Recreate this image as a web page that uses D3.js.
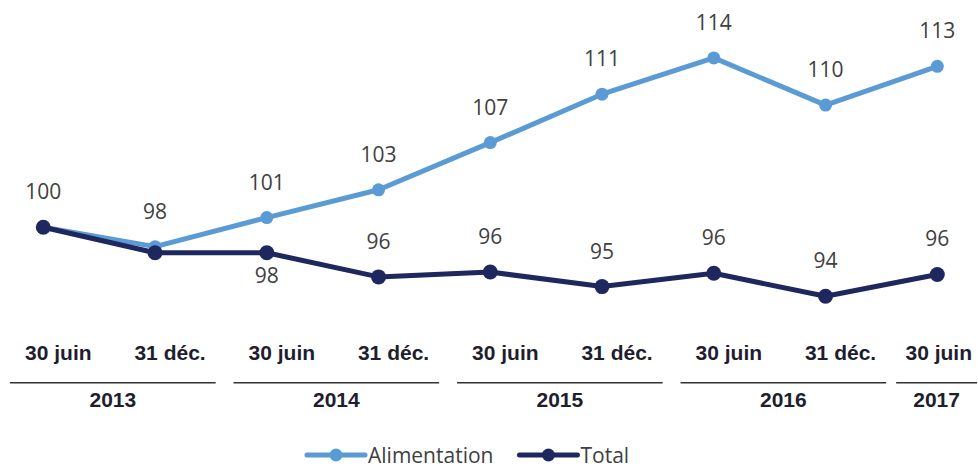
<!DOCTYPE html>
<html><head><meta charset="utf-8">
<script src="https://cdn.jsdelivr.net/npm/d3@7"></script>
<style>body{margin:0;background:#fff}svg{display:block}</style>
</head><body><svg id="c" width="978" height="468"></svg>
<script>
const categories = ["30 juin","31 déc.","30 juin","31 déc.","30 juin","31 déc.","30 juin","31 déc.","30 juin"];
const years = ["2013","2013","2014","2014","2015","2015","2016","2016","2017"];
const alimentation = [100, 98.4, 100.8, 103.1, 107.0, 111.0, 114.0, 110.1, 113.3];
const total = [100, 97.9, 97.9, 95.9, 96.3, 95.1, 96.2, 94.3, 96.1];
const seriesNames = ["Alimentation", "Total"];
const colors = ["#5B9BD5", "#1F285E"];

const W = 978, H = 468;
const svg = d3.select("#c");
const idx = d3.range(categories.length);
const x = d3.scalePoint().domain(idx).range([43.3, 937.3]);
const y = d3.scaleLinear().domain([90, 115]).range([348.3, 45.8]);
const fmt = d3.format(".0f");

const series = [
  {name: seriesNames[0], values: alimentation, color: colors[0], r: 6.5},
  {name: seriesNames[1], values: total, color: colors[1], r: 7.5}
];
const line = d3.line().x((d,i)=>x(i)).y(d=>y(d));

series.forEach(s => {
  const g = svg.append("g");
  g.append("path").datum(s.values).attr("d", line)
    .attr("fill","none").attr("stroke", s.color).attr("stroke-width",5)
    .attr("stroke-linejoin","round").attr("stroke-linecap","round");
  g.selectAll("circle").data(s.values).join("circle")
    .attr("cx",(d,i)=>x(i)).attr("cy",d=>y(d)).attr("r",s.r).attr("fill",s.color);
});

// data labels
const lbl = svg.append("g").attr("font-family","'Open Sans', sans-serif").attr("font-size",21)
  .attr("fill","#404040").attr("text-anchor","middle");
alimentation.forEach((v,i)=>{
  lbl.append("text").attr("x",x(i)).attr("y",y(v)-28).text(fmt(v));
});
total.forEach((v,i)=>{
  const a = alimentation[i];
  const gap = y(v) - y(a);
  if (fmt(v) === fmt(a) && gap < 20) return; // same label already shown
  const below = gap < 45;
  lbl.append("text").attr("x",x(i)).attr("y", below ? y(v)+30 : y(v)-28).text(fmt(v));
});

// category table
const axisG = svg.append("g").attr("font-family","'Liberation Sans', Arial, sans-serif")
  .attr("font-weight","bold").attr("font-size",21).attr("fill","#1E1E2E").attr("text-anchor","middle");
const catY = 360, lineY = 382.7, yearY = 406.5;
const boxes = [];
categories.forEach((c,i)=>{
  const t = axisG.append("text").attr("x", x(i)+15).attr("y",catY).text(c);
  const w = t.node().getComputedTextLength();
  let cx = x(i)+15;
  if (cx + w/2 > W - 6) { cx = W - 6 - w/2; t.attr("x", cx); }
  boxes.push({l: cx - w/2, r: cx + w/2});
});
const yearList = Array.from(new Set(years));
let prevRight = -Infinity;
yearList.forEach(yr=>{
  const cols = idx.filter(i=>years[i]===yr);
  let l = Math.max(boxes[cols[0]].l - 15, prevRight + 10, 4);
  let r = Math.min(boxes[cols[cols.length-1]].r + 10, W - 1);
  prevRight = r;
  axisG.append("line").attr("x1",l).attr("x2",r).attr("y1",lineY).attr("y2",lineY)
    .attr("stroke","#333").attr("stroke-width",1.5);
  axisG.append("text").attr("x",(l+r)/2).attr("y",yearY).text(yr);
});

// legend
const leg = svg.append("g").attr("font-family","'Open Sans', sans-serif").attr("font-size",21).attr("fill","#404040");
let lx = 307; const ly = 455;
series.forEach(s=>{
  leg.append("line").attr("x1",lx).attr("x2",lx+58).attr("y1",ly).attr("y2",ly)
    .attr("stroke",s.color).attr("stroke-width",5).attr("stroke-linecap","round");
  leg.append("circle").attr("cx",lx+29).attr("cy",ly).attr("r",6.5).attr("fill",s.color);
  const t = leg.append("text").attr("x",lx+61).attr("y",ly+7.5).text(s.name);
  lx = lx + 61 + t.node().getComputedTextLength() + 26;
});
</script></body></html>
